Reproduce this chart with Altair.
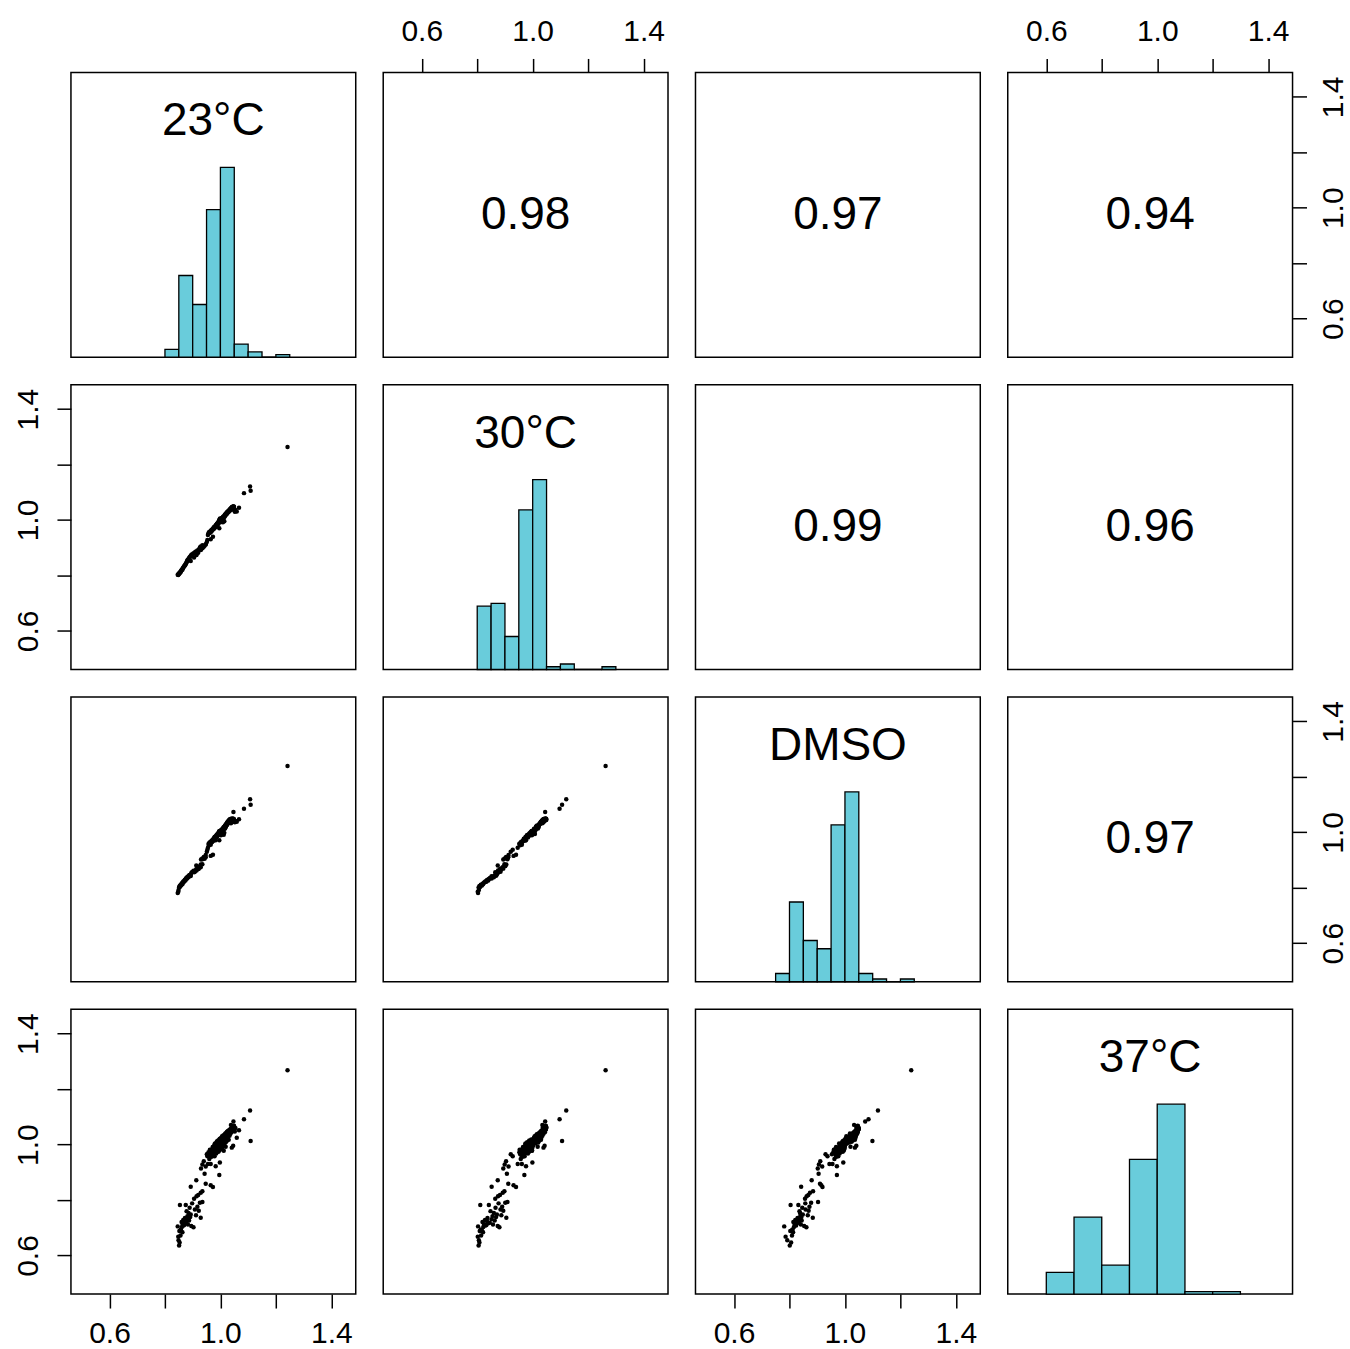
import altair as alt
import numpy as np
import pandas as pd

# Variable names shown on the diagonal
NAMES = ["23°C", "30°C", "DMSO", "37°C"]

# Pearson correlations printed in the upper triangle (row, column)
CORR_LABELS = {
    (0, 1): "0.98", (0, 2): "0.97", (0, 3): "0.94",
    (1, 2): "0.99", (1, 3): "0.96",
    (2, 3): "0.97",
}

# Relative values per sample; the same index is the same sample in every list
T23 = [
    0.846, 0.848, 0.849, 0.851, 0.852, 0.853, 0.854, 0.856, 0.857, 0.858,
    0.860, 0.861, 0.863, 0.864, 0.866, 0.867, 0.869, 0.871, 0.872, 0.874,
    0.875, 0.877, 0.878, 0.880, 0.881, 0.883, 0.885, 0.887, 0.889, 0.891,
    0.893, 0.895, 0.898, 0.903, 0.908, 0.912, 0.917, 0.922, 0.926, 0.929,
    0.935,
    0.893, 0.905, 0.913, 0.914, 0.920, 0.929, 0.935, 0.943, 0.947, 0.965, 0.973, 0.996,
    0.930, 0.935, 0.940, 0.947,
    0.951, 0.953, 0.955, 0.957, 0.959, 0.960, 0.962, 0.964, 0.965, 0.967,
    0.968, 0.970, 0.971, 0.972, 0.974, 0.975, 0.976, 0.977, 0.978, 0.979,
    0.980, 0.981, 0.982, 0.983, 0.984, 0.985, 0.985, 0.986, 0.987, 0.988,
    0.988, 0.989, 0.990, 0.990, 0.991, 0.992, 0.992, 0.993, 0.994, 0.994,
    0.995, 0.995, 0.996, 0.996, 0.997, 0.997, 0.998, 0.998, 0.999, 0.999,
    0.993, 0.987, 0.979,
    1.000, 1.001, 1.001, 1.002, 1.003, 1.003, 1.004, 1.005, 1.005, 1.006,
    1.007, 1.007, 1.008, 1.009, 1.009, 1.010, 1.011, 1.011, 1.012, 1.013,
    1.013, 1.014, 1.015, 1.015, 1.016, 1.017, 1.017, 1.018, 1.019, 1.019,
    1.020, 1.021, 1.021, 1.022, 1.023, 1.023, 1.024, 1.025, 1.025, 1.026,
    1.027, 1.027, 1.028, 1.029, 1.030, 1.031, 1.031, 1.032, 1.033, 1.034,
    1.035, 1.036, 1.036, 1.037, 1.038, 1.039, 1.040, 1.041, 1.042, 1.043,
    1.043, 1.044, 1.045, 1.046, 1.047, 1.048, 1.048, 1.049, 1.046, 1.041, 1.038,
    1.052, 1.054, 1.059, 1.067,
    1.242, 1.107, 1.109, 1.085, 1.047,
]

T30 = [
    0.803, 0.802, 0.806, 0.805, 0.809, 0.808, 0.811, 0.814, 0.813, 0.817,
    0.819, 0.822, 0.821, 0.825, 0.828, 0.830, 0.833, 0.835, 0.837, 0.840,
    0.842, 0.845, 0.848, 0.852, 0.855, 0.857, 0.860, 0.863, 0.866, 0.868,
    0.871, 0.874, 0.877, 0.880, 0.884, 0.887, 0.890, 0.894, 0.901, 0.905,
    0.909,
    0.852, 0.865, 0.874, 0.875, 0.882, 0.892, 0.898, 0.907, 0.912, 0.931, 0.940, 0.970,
    0.894, 0.899, 0.904, 0.913,
    0.921, 0.928, 0.946, 0.952, 0.955, 0.957, 0.953, 0.959, 0.961, 0.958,
    0.964, 0.962, 0.967, 0.965, 0.969, 0.972, 0.968, 0.973, 0.975, 0.971,
    0.977, 0.974, 0.979, 0.976, 0.981, 0.978, 0.983, 0.980, 0.985, 0.982,
    0.987, 0.984, 0.989, 0.986, 0.990, 0.988, 0.992, 0.990, 0.994, 0.991,
    0.996, 0.993, 0.998, 0.995, 1.002, 0.997, 0.999, 1.004, 0.998, 1.006,
    0.987, 0.983, 0.974,
    0.996, 0.998, 1.003, 0.997, 0.993, 1.005, 0.999, 1.004, 0.994, 1.007,
    0.995, 1.008, 1.005, 1.010, 0.992, 1.011, 1.008, 1.013, 0.997, 1.014,
    1.011, 0.996, 1.012, 1.017, 1.015, 1.019, 1.016, 1.021, 1.018, 1.022,
    1.020, 1.024, 1.021, 1.025, 1.023, 1.027, 1.024, 1.028, 1.026, 1.030,
    1.027, 1.031, 1.029, 1.033, 1.030, 1.034, 1.032, 1.036, 1.035, 1.038,
    1.037, 1.040, 1.039, 1.042, 1.041, 1.043, 1.044, 1.046, 1.045, 1.047,
    1.044, 1.048, 1.047, 1.049, 1.046, 1.048, 1.049, 1.047, 1.043, 1.039, 1.035,
    1.030, 1.036, 1.031, 1.044,
    1.263, 1.121, 1.106, 1.097, 1.045,
]

DMSO = [
    0.781, 0.786, 0.792, 0.801, 0.803, 0.806, 0.804, 0.809, 0.811, 0.808,
    0.814, 0.816, 0.813, 0.819, 0.821, 0.824, 0.822, 0.827, 0.829, 0.826,
    0.832, 0.834, 0.836, 0.833, 0.839, 0.841, 0.838, 0.844, 0.846, 0.843,
    0.848, 0.853, 0.857, 0.861, 0.858, 0.866, 0.872, 0.869, 0.878, 0.884,
    0.903,
    0.842, 0.856, 0.880, 0.862, 0.868, 0.874, 0.885, 0.905, 0.910, 0.915, 0.919, 0.971,
    0.902, 0.906, 0.911, 0.918,
    0.930, 0.937, 0.944, 0.958, 0.953, 0.962, 0.960, 0.966, 0.955, 0.963,
    0.969, 0.965, 0.972, 0.968, 0.975, 0.970, 0.977, 0.973, 0.980, 0.976,
    0.982, 0.979, 0.985, 0.971, 0.983, 0.987, 0.981, 0.990, 0.986, 0.984,
    0.992, 0.988, 0.994, 0.991, 0.989, 0.996, 0.993, 0.997, 0.999, 0.995,
    1.003, 0.998, 0.996, 1.001, 0.999, 1.005, 0.994, 1.002, 0.997, 0.998,
    0.992, 0.989, 0.983,
    1.004, 0.995, 1.006, 0.989, 0.998, 1.008, 0.993, 1.010, 0.997, 1.005,
    0.996, 0.994, 1.013, 1.007, 0.999, 1.015, 1.009, 1.017, 0.991, 1.019,
    1.012, 0.998, 1.021, 1.016, 1.023, 1.014, 1.025, 1.018, 1.020, 1.027,
    1.022, 1.029, 1.024, 1.031, 1.026, 1.033, 1.028, 1.035, 1.030, 1.037,
    1.032, 1.039, 1.034, 1.041, 1.036, 1.043, 1.038, 1.045, 1.040, 1.046,
    1.042, 1.048, 1.044, 1.047, 1.043, 1.049, 1.046, 1.048, 1.047, 1.049,
    1.045, 1.049, 1.046, 1.048, 1.049, 1.047, 1.044, 1.046, 1.041, 1.036, 1.033,
    1.036, 1.041, 1.038, 1.047,
    1.239, 1.119, 1.099, 1.085, 1.073,
]

T37 = [
    0.705, 0.668, 0.655, 0.636, 0.688, 0.647, 0.782, 0.672, 0.694, 0.690,
    0.721, 0.703, 0.684, 0.713, 0.728, 0.708, 0.710, 0.724, 0.735, 0.716,
    0.782, 0.718, 0.760, 0.731, 0.742, 0.712, 0.753, 0.726, 0.772, 0.739,
    0.748, 0.706, 0.788, 0.702, 0.766, 0.745, 0.776, 0.761, 0.790, 0.736,
    0.793,
    0.848, 0.805, 0.871, 0.814, 0.818, 0.826, 0.832, 0.895, 0.859, 0.853, 0.847, 0.890,
    0.914, 0.928, 0.940, 0.921,
    0.965, 0.958, 0.930, 0.972, 0.965, 0.948, 0.981, 0.962, 0.930, 0.975,
    0.956, 0.983, 0.970, 0.991, 0.962, 0.978, 0.987, 0.969, 0.994, 0.958,
    0.982, 1.004, 0.975, 0.922, 0.989, 0.997, 0.968, 1.008, 0.985, 0.977,
    1.012, 0.993, 0.980, 1.002, 0.996, 1.015, 0.988, 1.009, 1.006, 0.983,
    1.010, 0.992, 0.979, 1.018, 0.997, 1.003, 0.935, 1.021, 0.990, 1.007,
    0.974, 0.991, 1.001,
    1.013, 0.986, 1.020, 0.994, 0.987, 1.025, 0.997, 1.016, 0.983, 1.030,
    0.991, 1.012, 1.022, 1.005, 0.993, 1.027, 1.011, 1.034, 0.978, 1.018,
    1.024, 0.998, 1.029, 1.014, 1.037, 1.007, 1.023, 1.040, 0.992, 1.031,
    1.019, 1.042, 1.010, 1.035, 1.026, 1.045, 1.015, 1.038, 1.028, 1.048,
    1.021, 1.043, 1.033, 1.050, 1.017, 1.046, 1.036, 1.053, 1.032, 1.049,
    1.041, 1.056, 1.039, 1.052, 1.047, 1.058, 1.044, 1.060, 1.051, 1.055,
    1.063, 1.057, 1.054, 1.062, 1.059, 1.066, 1.061, 1.068, 0.996, 0.989, 1.071,
    1.047, 1.060, 1.025, 1.052,
    1.268, 1.123, 1.013, 1.091, 1.083,
]

# Histogram breaks for each variable: first edge, last edge, bin width
BIN_START = [0.80, 0.80, 0.75, 0.60]
BIN_END = [1.25, 1.30, 1.25, 1.30]
BIN_STEP = [0.05, 0.05, 0.05, 0.10]

# Shared axis range and tick positions
LO, HI = 0.461, 1.488
TICKS = [0.6, 0.8, 1.0, 1.2, 1.4]

PANEL = 285
GAP = 27.5
FONT = "Liberation Sans"
BAR_FILL = "#69CCDB"

COLS = ["t23", "t30", "dmso", "t37"]
df = pd.DataFrame({"t23": T23, "t30": T30, "dmso": DMSO, "t37": T37})
MID = (LO + HI) / 2

LABEL_EXPR = ("abs(datum.value - 0.8) < 1e-6 || abs(datum.value - 1.2) < 1e-6"
              " ? '' : format(datum.value, '.1f')")


def pos_scale():
    return alt.Scale(domain=[LO, HI], nice=False, zero=False)


def make_axis(orient):
    opts = dict(
        orient=orient, values=TICKS, labelExpr=LABEL_EXPR, title=None,
        domain=False, grid=False, ticks=True, tickSize=14, tickWidth=1.5,
        tickColor="black", labelColor="black", labelFont=FONT,
        labelFontSize=30, labelOverlap=False, labelFlush=False,
        labelBaseline="alphabetic", labelAlign="center",
    )
    if orient == "top":
        opts.update(labelPadding=18)
    elif orient == "bottom":
        opts.update(labelPadding=34)
    elif orient == "left":
        opts.update(labelPadding=19, labelAngle=270)
    else:
        opts.update(labelPadding=36, labelAngle=270)
    return alt.Axis(**opts)


def panel(i, j):
    x_axis = None
    y_axis = None
    if i == 0 and j % 2 == 1:
        x_axis = make_axis("top")
    if i == 3 and j % 2 == 0:
        x_axis = make_axis("bottom")
    if j == 0 and i % 2 == 1:
        y_axis = make_axis("left")
    if j == 3 and i % 2 == 0:
        y_axis = make_axis("right")

    if i == j:
        vals = df[COLS[i]].to_numpy()
        edges = np.round(np.arange(BIN_START[i], BIN_END[i] + BIN_STEP[i] / 2, BIN_STEP[i]), 2)
        counts, _ = np.histogram(vals, bins=edges)
        hdf = pd.DataFrame({
            "start": edges[:-1], "end": edges[1:],
            "h": counts / counts.max(), "base": 0.0,
        })
        ysc = alt.Scale(domain=[0, 1.5], nice=False, zero=True)
        bars = alt.Chart(hdf).mark_rect(
            fill=BAR_FILL, stroke="black", strokeWidth=1.3
        ).encode(
            x=alt.X("start:Q", scale=pos_scale(), axis=None),
            x2="end:Q",
            y=alt.Y("h:Q", scale=ysc, axis=None),
            y2="base:Q",
        )
        ldf = pd.DataFrame({"x": [MID], "y": [1.5 * 0.828], "label": [NAMES[i]]})
        label = alt.Chart(ldf).mark_text(
            font=FONT, fontSize=46, color="black", align="center", baseline="middle"
        ).encode(
            x=alt.X("x:Q", scale=pos_scale(), axis=None),
            y=alt.Y("y:Q", scale=ysc, axis=None),
            text="label:N",
        )
        return alt.layer(bars, label).properties(width=PANEL, height=PANEL)

    if i < j:
        tdf = pd.DataFrame({"x": [MID], "y": [MID], "label": [CORR_LABELS[(i, j)]]})
        return alt.Chart(tdf).mark_text(
            font=FONT, fontSize=46, color="black", align="center", baseline="middle"
        ).encode(
            x=alt.X("x:Q", scale=pos_scale(), axis=x_axis),
            y=alt.Y("y:Q", scale=pos_scale(), axis=y_axis),
            text="label:N",
        ).properties(width=PANEL, height=PANEL)

    return alt.Chart(df).mark_circle(size=20, color="black", opacity=1).encode(
        x=alt.X(f"{COLS[j]}:Q", scale=pos_scale(), axis=x_axis),
        y=alt.Y(f"{COLS[i]}:Q", scale=pos_scale(), axis=y_axis),
    ).properties(width=PANEL, height=PANEL)


cells = [panel(i, j) for i in range(4) for j in range(4)]

chart = alt.concat(
    *cells, columns=4, spacing=GAP, bounds="flush"
).properties(
    padding={"left": 13, "top": 15, "right": 0, "bottom": 0},
    background="white",
).configure_view(
    stroke="black", strokeWidth=1.5
)

chart.save("out.html", embed_options={"renderer": "svg", "actions": False})
